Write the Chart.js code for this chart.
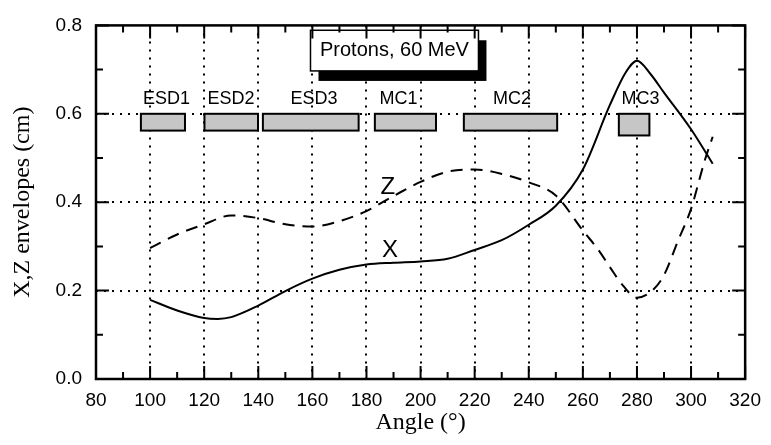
<!DOCTYPE html>
<html><head><meta charset="utf-8">
<script src="https://cdn.jsdelivr.net/npm/chart.js@4/dist/chart.umd.min.js"></script>
<style>html,body{margin:0;padding:0;background:#fff;overflow:hidden}</style>
</head><body>
<canvas id="c" width="771" height="445" style="width:771px;height:445px;display:block"></canvas>
<script>
// ---- data ----
const xAngles   = [100,110,120,125,130,140,150,160,170,180,190,200,210,220,230,240,250,260,270,276,280,285,290,300,308];
const xEnvelope = [0.179,0.155,0.138,0.136,0.140,0.166,0.199,0.227,0.247,0.259,0.263,0.266,0.272,0.292,0.314,0.349,0.392,0.474,0.620,0.695,0.720,0.690,0.648,0.565,0.487];
const zAngles   = [100,110,120,130,140,150,160,170,180,190,200,210,220,230,240,250,260,266,270,275,280,286,290,295,300,305,308];
const zEnvelope = [0.296,0.327,0.350,0.370,0.364,0.350,0.345,0.357,0.380,0.414,0.446,0.469,0.474,0.464,0.445,0.415,0.336,0.290,0.253,0.210,0.184,0.202,0.235,0.310,0.385,0.493,0.548];
const xTickValues = [80,100,120,140,160,180,200,220,240,260,280,300,320];
const yTickValues = [0.0,0.2,0.4,0.6,0.8];
const elementNames  = ['ESD1','ESD2','ESD3','MC1','MC2','MC3'];
const elementStart  = [96.6,120.1,141.7,183.1,216.0,273.3];
const elementEnd    = [112.9,139.9,177.1,205.7,250.5,284.6];
const elementTop    = [0.600,0.600,0.600,0.600,0.600,0.600];
const elementBottom = [0.562,0.562,0.562,0.562,0.562,0.551];
const elementLabelAngle = [106.1,129.9,160.6,191.8,233.8,281.3];
const curveLabels = ['Z','X'];
const boxTitle = 'Protons, 60 MeV';

// ---- placement (not data) ----
const labelLevel = 0.634;
const curveLabelPos = [[187.9,0.434],[188.7,0.290]];
const titleBox = {a0:159.3, a1:221.4, v0:0.789, v1:0.697};

const SANS = '"Liberation Sans", Arial, Helvetica, sans-serif';
const SERIF = '"Liberation Serif", "Times New Roman", serif';

const decor = {
  id:'decor',
  beforeDatasetsDraw(chart){
    const {ctx, scales:{x,y}} = chart;
    ctx.save();
    ctx.font = '18px ' + SANS;
    ctx.textAlign = 'center'; ctx.textBaseline = 'middle';
    elementNames.forEach((n,i)=>{
      const x0 = x.getPixelForValue(elementStart[i]), x1 = x.getPixelForValue(elementEnd[i]);
      const y0 = y.getPixelForValue(elementTop[i]), y1 = y.getPixelForValue(elementBottom[i]);
      ctx.fillStyle = '#c6c6c6';
      ctx.fillRect(x0,y0,x1-x0,y1-y0);
      ctx.lineWidth = 2; ctx.strokeStyle = '#000';
      ctx.strokeRect(x0,y0,x1-x0,y1-y0);
      ctx.fillStyle = '#000';
      ctx.fillText(n, x.getPixelForValue(elementLabelAngle[i]), y.getPixelForValue(labelLevel));
    });
    ctx.restore();
  },
  afterDatasetsDraw(chart){
    const {ctx, chartArea:ca, scales:{x,y}} = chart;
    ctx.save();
    ctx.fillStyle = '#000';
    ctx.font = '24px ' + SANS;
    ctx.textAlign = 'center'; ctx.textBaseline = 'middle';
    curveLabels.forEach((t,i)=>{
      ctx.fillText(t, x.getPixelForValue(curveLabelPos[i][0]), y.getPixelForValue(curveLabelPos[i][1]));
    });
    const bx0 = x.getPixelForValue(titleBox.a0), bx1 = x.getPixelForValue(titleBox.a1);
    const by0 = y.getPixelForValue(titleBox.v0), by1 = y.getPixelForValue(titleBox.v1);
    ctx.fillStyle = '#000';
    ctx.fillRect(bx0+8, by0+10, bx1-bx0, by1-by0);
    ctx.fillStyle = '#fff';
    ctx.fillRect(bx0, by0, bx1-bx0, by1-by0);
    ctx.lineWidth = 1.5; ctx.strokeStyle = '#000';
    ctx.strokeRect(bx0, by0, bx1-bx0, by1-by0);
    ctx.fillStyle = '#000';
    ctx.font = '20px ' + SANS;
    ctx.fillText(boxTitle, (bx0+bx1)/2, (by0+by1)/2);
    ctx.lineWidth = 2.5;
    ctx.strokeRect(ca.left, ca.top, ca.right-ca.left, ca.bottom-ca.top);
    ctx.lineWidth = 2;
    ctx.beginPath();
    for (let i=0;i<xTickValues.length;i++){
      const px = x.getPixelForValue(xTickValues[i]);
      ctx.moveTo(px, ca.bottom); ctx.lineTo(px, ca.bottom-13);
      ctx.moveTo(px, ca.top); ctx.lineTo(px, ca.top+13);
      if (i < xTickValues.length-1){
        const pm = x.getPixelForValue((xTickValues[i]+xTickValues[i+1])/2);
        ctx.moveTo(pm, ca.bottom); ctx.lineTo(pm, ca.bottom-7);
        ctx.moveTo(pm, ca.top); ctx.lineTo(pm, ca.top+7);
      }
    }
    for (let i=0;i<yTickValues.length;i++){
      const py = y.getPixelForValue(yTickValues[i]);
      ctx.moveTo(ca.left, py); ctx.lineTo(ca.left+13, py);
      ctx.moveTo(ca.right, py); ctx.lineTo(ca.right-13, py);
      if (i < yTickValues.length-1){
        const pm = y.getPixelForValue((yTickValues[i]+yTickValues[i+1])/2);
        ctx.moveTo(ca.left, pm); ctx.lineTo(ca.left+7, pm);
        ctx.moveTo(ca.right, pm); ctx.lineTo(ca.right-7, pm);
      }
    }
    ctx.stroke();
    ctx.restore();
  }
};

const gridColor = (edgeVals) => (c) => (c.tick && edgeVals.includes(c.tick.value)) ? 'rgba(0,0,0,0)' : '#000';

new Chart(document.getElementById('c'), {
  type: 'scatter',
  data: {
    datasets: [
      { label:'X', data: xAngles.map((a,i)=>({x:a, y:xEnvelope[i]})), showLine:true,
        borderColor:'#000', borderWidth:2, pointRadius:0, cubicInterpolationMode:'monotone', fill:false },
      { label:'Z', data: zAngles.map((a,i)=>({x:a, y:zEnvelope[i]})), showLine:true,
        borderColor:'#000', borderWidth:2, borderDash:[12,8], pointRadius:0, cubicInterpolationMode:'monotone', fill:false }
    ]
  },
  options: {
    responsive:false, animation:false, devicePixelRatio:1,
    layout:{ padding:{ top:15, right:18, left:0, bottom:0 } },
    plugins:{ legend:{display:false}, tooltip:{enabled:false} },
    scales:{
      x:{
        type:'linear', min:80, max:320,
        afterBuildTicks: s => { s.ticks = xTickValues.map(v=>({value:v})); },
        afterFit: s => { s.height = 66; },
        ticks:{ padding:10, color:'#000', font:{family:SANS, size:19}, callback:v=>String(v), maxRotation:0 },
        grid:{ drawTicks:false, color:gridColor([80,320]), lineWidth:2 },
        border:{ display:false, dash:[2,6] },
        title:{ display:true, text:'Angle (°)', color:'#000', font:{family:SERIF, size:24}, padding:{top:0,bottom:8} }
      },
      y:{
        type:'linear', min:0, max:0.8,
        afterBuildTicks: s => { s.ticks = yTickValues.map(v=>({value:v})); },
        afterFit: s => { s.width = 96; },
        ticks:{ padding:14, color:'#000', font:{family:SANS, size:19}, callback:v=>Number(v).toFixed(1) },
        grid:{ drawTicks:false, color:gridColor([0,0.8]), lineWidth:2 },
        border:{ display:false, dash:[2,6] },
        title:{ display:true, text:'X,Z envelopes (cm)', color:'#000', font:{family:SERIF, size:24}, padding:{top:8,bottom:0} }
      }
    }
  },
  plugins:[decor]
});
</script>
</body></html>
